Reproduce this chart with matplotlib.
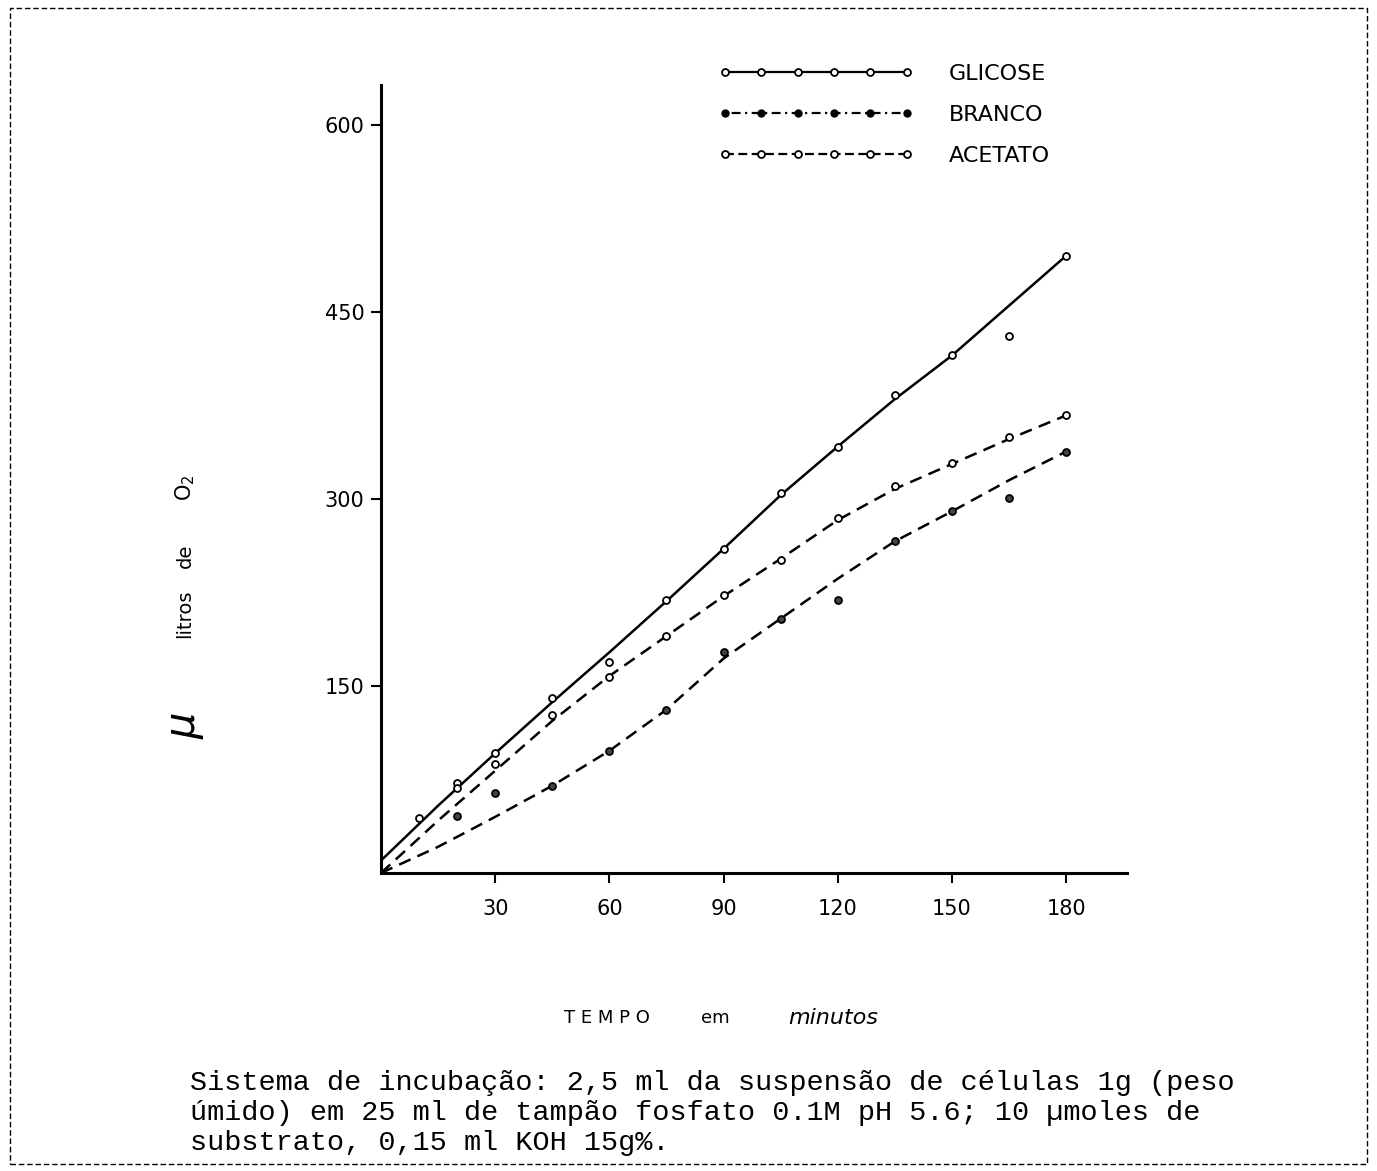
import matplotlib.pyplot as plt
from matplotlib.lines import Line2D
from matplotlib.patches import Rectangle

# measured points (min, ul O2)
glicose_t = [10, 20, 30, 45, 60, 75, 90, 105, 120, 135, 150, 165, 180]
glicose_v = [44, 72, 96, 140, 169, 219, 260, 305, 342, 383, 415, 431, 495]

acetato_t = [20, 30, 45, 60, 75, 90, 105, 120, 135, 150, 165, 180]
acetato_v = [68, 87, 127, 157, 190, 223, 251, 285, 310, 329, 350, 367]

branco_t = [20, 30, 45, 60, 75, 90, 105, 120, 135, 150, 165, 180]
branco_v = [46, 64, 70, 98, 131, 177, 204, 219, 266, 290, 301, 338]

# hand-drawn curves
curve_t = [0, 15, 30, 45, 60, 75, 90, 105, 120, 135, 150, 165, 180]
glicose_curve = [10, 54, 96, 137, 177, 218, 260, 303, 342, 380, 415, 455, 495]
acetato_curve = [0, 42, 82, 122, 158, 190, 222, 252, 283, 308, 328, 348, 367]
branco_curve = [0, 21, 45, 70, 98, 131, 172, 204, 236, 266, 290, 315, 338]

xticks = [30, 60, 90, 120, 150, 180]
yticks = [150, 300, 450, 600]

fig = plt.figure(figsize=(13.77, 11.71), dpi=100)
ax = fig.add_axes([0.2767, 0.2545, 0.5418, 0.673])

lw = 1.8
ax.plot(curve_t, glicose_curve, color="black", lw=lw)
ax.plot(curve_t, acetato_curve, color="black", lw=lw, linestyle=(0, (5, 3)))
ax.plot(curve_t, branco_curve, color="black", lw=lw, linestyle=(0, (5, 3)))

mk = dict(linestyle="none", marker="o", markersize=5, markeredgecolor="black",
          markeredgewidth=1.3)
ax.plot(glicose_t, glicose_v, markerfacecolor="white", **mk)
ax.plot(acetato_t, acetato_v, markerfacecolor="white", **mk)
ax.plot(branco_t, branco_v, markerfacecolor="#444444", **mk)

ax.set_xlim(0, 196)
ax.set_ylim(0, 632)
ax.set_xticks(xticks)
ax.set_yticks(yticks)
ax.tick_params(axis="both", direction="out", length=7, width=1.5,
               labelsize=15, colors="black")
ax.tick_params(axis="x", pad=12)
ax.tick_params(axis="y", pad=5)
for s in ["top", "right"]:
    ax.spines[s].set_visible(False)
for s in ["left", "bottom"]:
    ax.spines[s].set_linewidth(2.2)

# legend
handles = [
    Line2D([], [], color="black", lw=1.6, marker="o", markersize=5,
           markerfacecolor="white", markeredgewidth=1.3),
    Line2D([], [], color="black", lw=1.6, linestyle=(0, (1, 2, 4, 2)),
           marker="o", markersize=5, markerfacecolor="black"),
    Line2D([], [], color="black", lw=1.6, linestyle=(0, (4, 2)),
           marker="o", markersize=5, markerfacecolor="white",
           markeredgewidth=1.3),
]
fig.legend(handles, ["GLICOSE", "BRANCO", "ACETATO"], numpoints=6,
           loc="center left", bbox_to_anchor=(0.5214, 1 - 115 / 1171),
           frameon=False, fontsize=16, handlelength=8.8, handletextpad=1.6,
           labelspacing=0.95, borderpad=0, borderaxespad=0)

# y label, written as separate words like the original
ylab_x = 185 / 1377
fig.text(ylab_x, 1 - 725 / 1171, r"$\mu$", rotation=90, ha="center",
         va="center", fontsize=30)
fig.text(ylab_x, 1 - 614 / 1171, "litros", rotation=90, ha="center",
         va="center", fontsize=14)
fig.text(ylab_x, 1 - 556 / 1171, "de", rotation=90, ha="center",
         va="center", fontsize=14)
fig.text(ylab_x, 1 - 488 / 1171, r"O$_2$", rotation=90, ha="center",
         va="center", fontsize=15)

# x label
fig.text(607 / 1377, 1 - 1018 / 1171, "T E M P O", ha="center", va="center",
         fontsize=13)
fig.text(715 / 1377, 1 - 1018 / 1171, "em", ha="center", va="center",
         fontsize=13)
fig.text(833 / 1377, 1 - 1018 / 1171, "minutos", ha="center", va="center",
         fontsize=16, style="italic")

caption = ["Sistema de incubação: 2,5 ml da suspensão de células 1g (peso",
           "úmido) em 25 ml de tampão fosfato 0.1M pH 5.6; 10 µmoles de",
           "substrato, 0,15 ml KOH 15g%."]
for i, line in enumerate(caption):
    fig.text(190 / 1377, 1 - (1083 + 30 * i) / 1171, line, ha="left",
             va="center", fontsize=20.5, family="Liberation Mono")

# dashed page border
fig.patches.append(Rectangle((0.007, 0.006), 0.986, 0.987,
                             transform=fig.transFigure, fill=False,
                             edgecolor="black", lw=1.0,
                             linestyle=(0, (4, 2))))

fig.savefig("out.png", dpi=100)
